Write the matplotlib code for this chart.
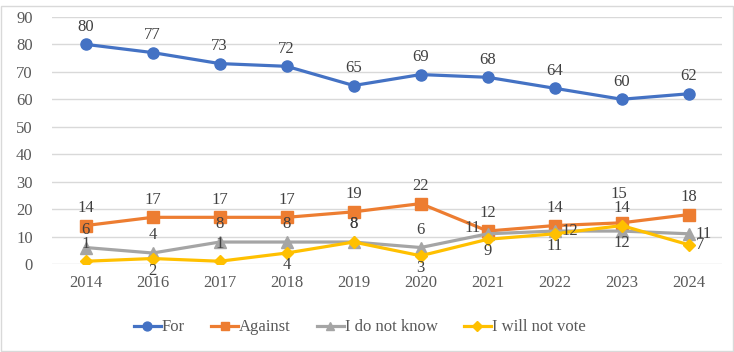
import matplotlib.pyplot as plt
from matplotlib.patches import Rectangle

plt.rcParams['font.family'] = ['Liberation Serif', 'DejaVu Serif']

years = ['2014', '2016', '2017', '2018', '2019', '2020', '2021', '2022', '2023', '2024']
vote_for = [80, 77, 73, 72, 65, 69, 68, 64, 60, 62]
vote_against = [14, 17, 17, 17, 19, 22, 12, 14, 15, 18]
dont_know = [6, 4, 8, 8, 8, 6, 11, 12, 12, 11]
wont_vote = [1, 2, 1, 4, 8, 3, 9, 11, 14, 7]

# where each data label sits relative to its point
pos_for = ['above'] * 10
pos_against = ['above'] * 8 + ['high', 'above']
pos_dont_know = ['above'] * 6 + ['left', 'right', 'below', 'right']
pos_wont_vote = ['above', 'below', 'above', 'below', 'above', 'below',
                 'below', 'below', 'above', 'right']

offsets = {
    'above': ((0, 7), 'center', 'bottom'),
    'high': ((-2, 15), 'center', 'bottom'),
    'below': ((0, -3), 'center', 'top'),
    'right': ((5, 0), 'left', 'center'),
    'left': ((-5, 4), 'right', 'center'),
}

fig = plt.figure(figsize=(7.34, 3.52), dpi=100)
ax = fig.add_axes([0.071, 0.25, 0.913, 0.702])

x = list(range(len(years)))
series = [
    (vote_for, 'For', '#4472C4', 'o', 8, pos_for),
    (vote_against, 'Against', '#ED7D31', 's', 8, pos_against),
    (dont_know, 'I do not know', '#A5A5A5', '^', 8, pos_dont_know),
    (wont_vote, 'I will not vote', '#FFC000', 'D', 6, pos_wont_vote),
]

for vals, name, color, marker, ms, positions in series:
    ax.plot(x, vals, color=color, linewidth=2.3, marker=marker, markersize=ms,
            label=name, zorder=3)

for vals, name, color, marker, ms, positions in series:
    for xi, v, p in zip(x, vals, positions):
        off, ha, va = offsets[p]
        ax.annotate(str(v), (xi, v), xytext=off, textcoords='offset points',
                    ha=ha, va=va, fontsize=12, color='#404040', zorder=4)

ax.set_xlim(-0.5, len(years) - 0.5)
ax.set_ylim(0, 90)
ax.set_yticks(range(0, 91, 10))
ax.set_xticks(x)
ax.set_xticklabels(years)
ax.grid(axis='y', color='#D9D9D9', linewidth=1)
ax.set_axisbelow(True)
for s in ax.spines.values():
    s.set_visible(False)
ax.tick_params(length=0, labelsize=12, colors='#595959', pad=8)
ax.tick_params(axis='y', pad=14)

fig.legend(loc='center', bbox_to_anchor=(0.49, 0.07), ncol=4, frameon=False,
           fontsize=12, handlelength=1.6, handletextpad=0.05, columnspacing=1.6,
           markerscale=0.8, labelcolor='#595959')

fig.patches.append(Rectangle((0.002, 0.003), 0.996, 0.98, transform=fig.transFigure,
                             fill=False, edgecolor='#D9D9D9', linewidth=1))

fig.savefig('out.png', dpi=100)
